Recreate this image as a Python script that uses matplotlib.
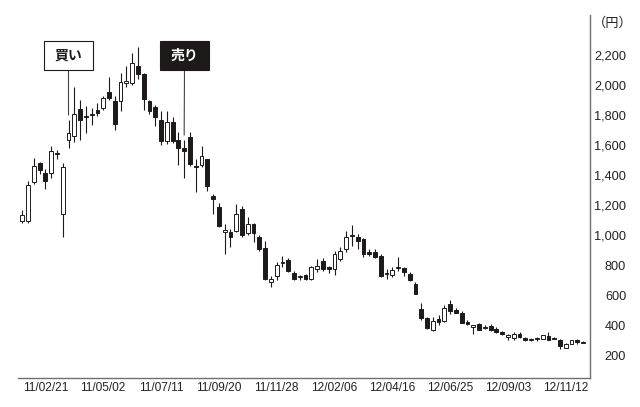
import numpy as np
import pandas as pd
import matplotlib
matplotlib.use("Agg")
import matplotlib.pyplot as plt
from matplotlib import font_manager
from matplotlib.patches import Rectangle

# weekly candles, first week 2011-01-24
start_week = "2011-01-24"
opens = [1094, 1094, 1352, 1478, 1414, 1410, 1536, 1138, 1631, 1657,
         1840, 1787, 1803, 1834, 1845, 1955, 1893, 1893, 2015, 2010,
         2127, 2070, 1889, 1849, 1768, 1624, 1750, 1635, 1580, 1650,
         1454, 1465, 1509, 1260, 1187, 1021, 1021, 1028, 1172, 1010,
         1072, 988, 913, 685, 730, 815, 833, 745, 717, 736,
         708, 774, 825, 785, 774, 840, 907, 993, 988, 973,
         884, 884, 862, 739, 736, 783, 781, 741, 675, 509,
         447, 366, 443, 425, 538, 498, 480, 421, 387, 405,
         381, 392, 377, 354, 324, 317, 344, 315, 302, 306,
         310, 326, 308, 304, 250, 277, 299, 282]
highs = [1165, 1359, 1513, 1487, 1437, 1591, 1569, 1480, 1768, 1988,
         1900, 1856, 1845, 1878, 1922, 2054, 1922, 2077, 2127, 2209,
         2253, 2077, 1900, 1867, 1823, 1823, 1783, 1688, 1635, 1688,
         1503, 1591, 1509, 1271, 1215, 1072, 1039, 1205, 1193, 1121,
         1083, 1001, 962, 730, 818, 862, 847, 758, 736, 741,
         796, 840, 847, 796, 895, 922, 1028, 1068, 1006, 980,
         907, 907, 873, 774, 785, 851, 789, 752, 686, 546,
         454, 454, 465, 531, 569, 511, 491, 432, 399, 412,
         399, 405, 385, 359, 339, 352, 352, 319, 313, 319,
         332, 352, 319, 310, 279, 304, 310, 293]
lows = [1083, 1083, 1341, 1407, 1308, 1381, 1503, 984, 1580, 1619,
        1635, 1679, 1735, 1789, 1834, 1900, 1701, 1827, 1988, 1999,
        2039, 1834, 1805, 1723, 1597, 1606, 1613, 1465, 1381, 1458,
        1288, 1452, 1293, 1142, 1050, 874, 917, 1017, 988, 1001,
        950, 895, 701, 652, 697, 785, 752, 701, 701, 701,
        701, 752, 758, 745, 736, 825, 884, 928, 907, 851,
        862, 847, 719, 708, 723, 763, 730, 692, 604, 436,
        377, 361, 399, 421, 472, 478, 412, 399, 339, 366,
        372, 359, 346, 334, 299, 299, 315, 295, 293, 293,
        308, 299, 306, 244, 246, 273, 273, 280]
closes = [1134, 1331, 1458, 1430, 1359, 1562, 1544, 1452, 1679, 1805,
          1763, 1783, 1799, 1811, 1911, 1915, 1738, 2017, 2019, 2145,
          2070, 1907, 1827, 1783, 1624, 1750, 1624, 1580, 1558, 1474,
          1450, 1525, 1326, 1238, 1061, 1032, 988, 1138, 1001, 1076,
          1010, 907, 708, 708, 803, 820, 758, 708, 721, 708,
          785, 796, 774, 774, 873, 895, 984, 997, 957, 873,
          873, 856, 730, 743, 767, 787, 752, 701, 609, 449,
          383, 427, 421, 516, 493, 483, 414, 405, 399, 370,
          385, 366, 354, 339, 328, 344, 321, 299, 306, 310,
          332, 304, 312, 262, 271, 299, 288, 288]

date_ticks = ["11/02/21", "11/05/02", "11/07/11", "11/09/20", "11/11/28",
              "12/02/06", "12/04/16", "12/06/25", "12/09/03", "12/11/12"]
price_ticks = [200, 400, 600, 800, 1000, 1200, 1400, 1600, 1800, 2000, 2200]
buy_week = "11/03/21"
sell_week = "11/08/08"

# pick a narrow font if there is one
names = {f.name for f in font_manager.fontManager.ttflist}
narrow = "Liberation Sans Narrow" in names
num_font = "Liberation Sans Narrow" if narrow else "Liberation Sans"
date_size = 10 if narrow else 8.6
jp_font = "Noto Sans CJK JP"
plt.rcParams["font.family"] = [num_font, jp_font, "DejaVu Sans"]

df = pd.DataFrame({"open": opens, "high": highs, "low": lows, "close": closes})
x = np.arange(len(df))
t0 = pd.Timestamp(start_week)


def week_index(label):
    d = pd.to_datetime(label, format="%y/%m/%d")
    return (d - t0).days // 7


ink = "#1e1a19"
fig = plt.figure(figsize=(6.4, 4.07), dpi=100)
ax = fig.add_axes([0.028, 0.0713, 0.894, 0.892])

# wicks
ax.vlines(x, df["low"], df["high"], color=ink, lw=0.8, zorder=1)

# bodies
body_lo = np.minimum(df["open"], df["close"])
body_h = np.abs(df["close"] - df["open"])
body_h = np.maximum(body_h, 7)
up = df["close"] >= df["open"]
faces = np.where(up, "white", ink)
ax.bar(x, body_h, bottom=body_lo, width=0.66, color=faces,
       edgecolor=ink, linewidth=0.7, zorder=2)

ax.set_xlim(-0.75, 98.2)
ax.set_ylim(48, 2465)

for side in ["top", "left"]:
    ax.spines[side].set_visible(False)
for side in ["bottom", "right"]:
    ax.spines[side].set_color("#707070")
    ax.spines[side].set_linewidth(1.0)

ax.set_xticks([week_index(t) for t in date_ticks])
ax.set_xticklabels(date_ticks, fontsize=date_size, color="#222222")
ax.tick_params(axis="x", length=0, pad=3)

ax.yaxis.tick_right()
ax.set_yticks(price_ticks)
ax.set_yticklabels([f"{v:,}" for v in price_ticks], fontsize=9.2, color="#222222")
ax.tick_params(axis="y", length=0, pad=26)
for lab in ax.get_yticklabels():
    lab.set_horizontalalignment("right")

fig.text(0.988, 0.944, "（円）", fontsize=9.5, ha="right", va="center",
         family=[jp_font, "DejaVu Sans"], color="#222222")


# signal boxes
def signal(week, text, face, txt_color, box_x):
    i = week_index(week)
    w, h = 49 / 640, 29 / 407
    y0 = 1 - 70 / 407
    fig.patches.append(Rectangle((box_x, y0), w, h, transform=fig.transFigure,
                                 facecolor=face, edgecolor=ink, lw=0.8, zorder=5))
    fig.text(box_x + w / 2, y0 + h / 2, text, ha="center", va="center",
             fontsize=10, fontweight="bold", color=txt_color,
             family=[jp_font, "DejaVu Sans"], zorder=6)
    ax.annotate("", xy=(i, df["high"][i] + 30), xycoords="data",
                xytext=(box_x + w / 2, y0), textcoords="figure fraction",
                arrowprops=dict(arrowstyle="-", color="#444444", lw=0.8,
                                shrinkA=0, shrinkB=0))


signal(buy_week, "買い", "white", ink, 44 / 640)
signal(sell_week, "売り", ink, "white", 160 / 640)

fig.savefig("out.png", dpi=100)
